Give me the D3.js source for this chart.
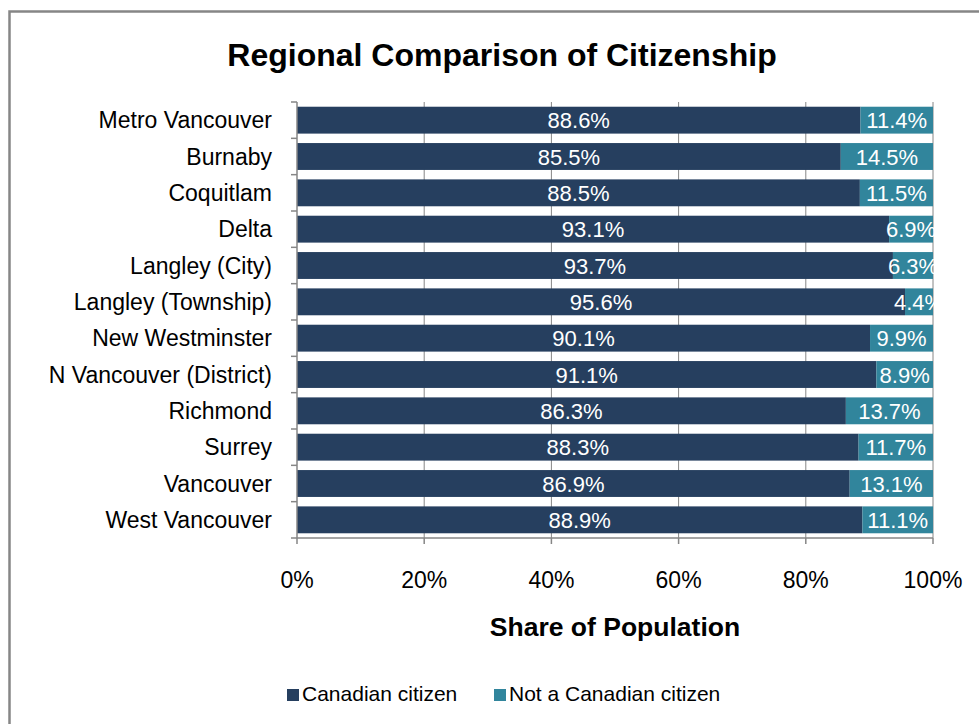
<!DOCTYPE html>
<html lang="en">
<head>
  <meta charset="UTF-8">
  <title>Regional Comparison of Citizenship</title>
  <style>
    body { margin: 0; background: #fff; }
    svg text { font-family: "Liberation Sans", Arial, sans-serif; }
  </style>
</head>
<body>
  <svg id="chart" width="979" height="724"></svg>

  <script src="https://d3js.org/d3.v7.min.js"></script>
  <script>
    const regions = ["Metro Vancouver", "Burnaby", "Coquitlam", "Delta", "Langley (City)",
      "Langley (Township)", "New Westminster", "N Vancouver (District)", "Richmond",
      "Surrey", "Vancouver", "West Vancouver"];
    const citizen = [88.6, 85.5, 88.5, 93.1, 93.7, 95.6, 90.1, 91.1, 86.3, 88.3, 86.9, 88.9];
    const nonCitizen = [11.4, 14.5, 11.5, 6.9, 6.3, 4.4, 9.9, 8.9, 13.7, 11.7, 13.1, 11.1];
    const seriesNames = ["Canadian citizen", "Not a Canadian citizen"];
    const colors = ["#263f5f", "#31859c"];
    const xTicks = [0, 20, 40, 60, 80, 100];

    const svg = d3.select("#chart");
    const axisColor = "#868686";

    // chart area frame (runs off the right/bottom of the picture)
    svg.append("rect")
      .attr("x", 9.5).attr("y", 11.5)
      .attr("width", 1000).attr("height", 760)
      .attr("fill", "none").attr("stroke", axisColor).attr("stroke-width", 2.5);

    const x = d3.scaleLinear().domain([0, 100]).range([297, 933]);
    const y = d3.scaleBand().domain(regions).range([102, 538])
      .paddingInner(0.26).paddingOuter(0.13);

    svg.append("text")
      .attr("x", 502).attr("y", 66)
      .attr("text-anchor", "middle")
      .style("font-size", "32px").style("font-weight", "bold")
      .text("Regional Comparison of Citizenship");

    // gridlines
    svg.append("g")
      .selectAll("line")
      .data(xTicks.slice(1))
      .join("line")
      .attr("x1", d => x(d)).attr("x2", d => x(d))
      .attr("y1", 102).attr("y2", 538)
      .attr("stroke", axisColor).attr("stroke-width", 1);

    const rows = regions.map((r, i) => ({ region: r, vals: [citizen[i], nonCitizen[i]] }));

    const row = svg.append("g")
      .selectAll("g")
      .data(rows)
      .join("g");

    row.selectAll("rect")
      .data(d => {
        let acc = 0;
        return d.vals.map((v, k) => {
          const seg = { region: d.region, k, v, x0: acc, x1: acc + v };
          acc += v;
          return seg;
        });
      })
      .join("rect")
      .attr("x", d => x(d.x0))
      .attr("y", d => y(d.region))
      .attr("width", d => x(d.x1) - x(d.x0))
      .attr("height", y.bandwidth())
      .attr("fill", d => colors[d.k]);

    row.selectAll("text")
      .data(d => {
        let acc = 0;
        return d.vals.map((v, k) => {
          const seg = { region: d.region, v, mid: acc + v / 2 };
          acc += v;
          return seg;
        });
      })
      .join("text")
      .attr("x", d => x(d.mid))
      .attr("y", d => y(d.region) + y.bandwidth() / 2 + 8)
      .attr("text-anchor", "middle")
      .attr("fill", "#fff")
      .style("font-size", "22px")
      .text(d => d.v.toFixed(1) + "%");

    // y axis
    const yAxis = svg.append("g");
    yAxis.append("line")
      .attr("x1", 297).attr("x2", 297).attr("y1", 102).attr("y2", 538)
      .attr("stroke", axisColor).attr("stroke-width", 1.5);
    const step = y.step();
    yAxis.selectAll("line.tick")
      .data(d3.range(regions.length + 1))
      .join("line")
      .attr("class", "tick")
      .attr("x1", 291).attr("x2", 297)
      .attr("y1", i => 102 + i * step).attr("y2", i => 102 + i * step)
      .attr("stroke", axisColor).attr("stroke-width", 1.5);
    yAxis.selectAll("text")
      .data(regions)
      .join("text")
      .attr("x", 272)
      .attr("y", d => y(d) + y.bandwidth() / 2 + 8)
      .attr("text-anchor", "end")
      .style("font-size", "23px")
      .text(d => d);

    // x axis
    const xAxis = svg.append("g");
    xAxis.append("line")
      .attr("x1", 297).attr("x2", 933).attr("y1", 538).attr("y2", 538)
      .attr("stroke", axisColor).attr("stroke-width", 1.5);
    xAxis.selectAll("line.tick")
      .data(xTicks)
      .join("line")
      .attr("class", "tick")
      .attr("x1", d => x(d)).attr("x2", d => x(d))
      .attr("y1", 538).attr("y2", 544)
      .attr("stroke", axisColor).attr("stroke-width", 1.5);
    xAxis.selectAll("text")
      .data(xTicks)
      .join("text")
      .attr("x", d => x(d))
      .attr("y", 588)
      .attr("text-anchor", "middle")
      .style("font-size", "23px")
      .text(d => d + "%");

    svg.append("text")
      .attr("x", 615).attr("y", 636)
      .attr("text-anchor", "middle")
      .style("font-size", "26.5px").style("font-weight", "bold")
      .text("Share of Population");

    // legend
    const legendX = [287, 494];
    const legend = svg.append("g")
      .selectAll("g")
      .data(seriesNames)
      .join("g")
      .attr("transform", (d, i) => `translate(${legendX[i]},689)`);
    legend.append("rect")
      .attr("width", 12).attr("height", 12)
      .attr("fill", (d, i) => colors[i]);
    legend.append("text")
      .attr("x", 15).attr("y", 12)
      .style("font-size", "21px")
      .text(d => d);
  </script>
</body>
</html>
